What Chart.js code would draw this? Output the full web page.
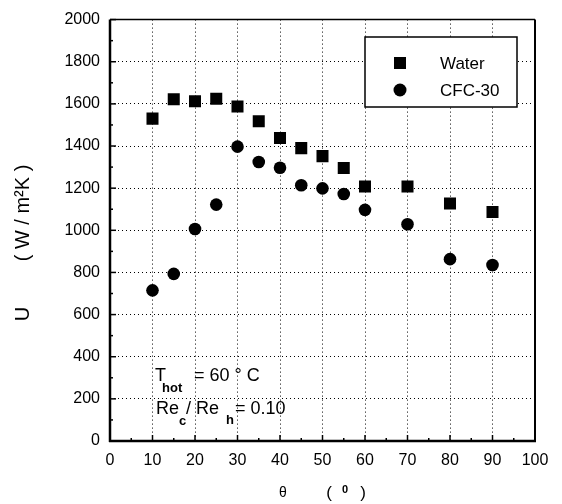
<!DOCTYPE html>
<html>
<head>
<meta charset="utf-8">
<script src="https://cdn.jsdelivr.net/npm/chart.js@4/dist/chart.umd.min.js"></script>
<style>
  html, body { margin: 0; padding: 0; background: #fff; }
  #wrap { width: 562px; height: 504px; }
</style>
</head>
<body>
<div id="wrap"><canvas id="c" width="562" height="504"></canvas></div>
<script>
// data
var angles = [10, 15, 20, 25, 30, 35, 40, 45, 50, 55, 60, 70, 80, 90];
var water  = [1530, 1622, 1612, 1624, 1588, 1518, 1438, 1390, 1352, 1296, 1208, 1208, 1127, 1087];
var cfc30  = [715, 793, 1006, 1122, 1397, 1324, 1297, 1214, 1199, 1172, 1097, 1029, 863, 835];
var seriesNames = ['Water', 'CFC-30'];
var xRange = [0, 100], xStep = 10, xMinor = 5;
var yRange = [0, 2000], yStep = 200, yMinor = 100;

var FONT = "'Liberation Sans', Arial, sans-serif";

function pts(xs, ys) {
  return xs.map(function (x, i) { return { x: x, y: ys[i] }; });
}

function line(ctx, x1, y1, x2, y2) {
  ctx.beginPath();
  ctx.moveTo(x1, y1);
  ctx.lineTo(x2, y2);
  ctx.stroke();
}

var decor = {
  id: 'decor',
  beforeDatasetsDraw: function (chart) {
    var ctx = chart.ctx, a = chart.chartArea, x = chart.scales.x, y = chart.scales.y;
    ctx.save();
    ctx.strokeStyle = '#000';
    ctx.lineWidth = 1.5;
    // inward ticks, major + minor
    for (var v = xRange[0]; v <= xRange[1]; v += xMinor) {
      var px = x.getPixelForValue(v);
      line(ctx, px, a.bottom, px, a.bottom - (v % xStep === 0 ? 6 : 3));
    }
    for (var w = yRange[0]; w <= yRange[1]; w += yMinor) {
      var py = y.getPixelForValue(w);
      line(ctx, a.left, py, a.left + (w % yStep === 0 ? 6 : 3), py);
    }
    // frame
    ctx.lineWidth = 2.5;
    line(ctx, a.left, a.top, a.left, a.bottom + 1);
    line(ctx, a.left - 1, a.bottom, a.right + 1, a.bottom);
    ctx.lineWidth = 2;
    line(ctx, a.right, a.top, a.right, a.bottom);
    ctx.lineWidth = 1.5;
    line(ctx, a.left, a.top, a.right, a.top);
    ctx.restore();
  },
  afterDatasetsDraw: function (chart) {
    var ctx = chart.ctx;
    ctx.save();
    ctx.fillStyle = '#000';
    ctx.strokeStyle = '#000';

    // legend box
    ctx.fillStyle = '#fff';
    ctx.fillRect(365, 37, 152, 70);
    ctx.lineWidth = 1.5;
    ctx.strokeRect(365, 37, 152, 70);
    ctx.fillStyle = '#000';
    ctx.fillRect(394, 57, 12, 12);
    ctx.beginPath();
    ctx.arc(400, 90, 6.5, 0, Math.PI * 2);
    ctx.fill();
    ctx.font = '17px ' + FONT;
    ctx.textAlign = 'left';
    ctx.textBaseline = 'alphabetic';
    ctx.fillText(chart.data.datasets[0].label, 440, 69);
    ctx.fillText(chart.data.datasets[1].label, 440, 96);

    // annotation
    ctx.font = '18px ' + FONT;
    ctx.fillText('T', 155, 381);
    ctx.fillText('= 60 \u00b0 C', 194, 381);
    ctx.fillText('Re', 156, 414);
    ctx.fillText('/', 186, 414);
    ctx.fillText('Re', 196, 414);
    ctx.fillText('= 0.10', 235, 414);
    ctx.font = 'bold 13px ' + FONT;
    ctx.fillText('hot', 162, 392);
    ctx.fillText('c', 179, 425);
    ctx.fillText('h', 226, 424);

    // axis titles
    ctx.font = '14px ' + FONT;
    ctx.textAlign = 'center';
    ctx.fillText('\u03b8', 283, 497);
    ctx.font = '17px ' + FONT;
    ctx.fillText('(', 329, 498);
    ctx.fillText(')', 363, 498);
    ctx.font = 'bold 11px ' + FONT;
    ctx.fillText('0', 345, 493);

    ctx.save();
    ctx.translate(29, 0);
    ctx.rotate(-Math.PI / 2);
    ctx.font = '20px ' + FONT;
    ctx.textAlign = 'center';
    ctx.fillText('U', -314, 0);
    ctx.fillText('( W / m\u00b2K )', -213, 0);
    ctx.restore();

    ctx.restore();
  }
};

var dotted = {
  color: function (c) {
    var v = c.tick && c.tick.value;
    if (c.scale.axis === 'x') return (v === xRange[0] || v === xRange[1]) ? 'rgba(0,0,0,0)' : '#000';
    return (v === yRange[0] || v === yRange[1]) ? 'rgba(0,0,0,0)' : '#000';
  },
  lineWidth: 1,
  drawTicks: false
};

function plain(v) { return String(v); }

new Chart(document.getElementById('c'), {
  type: 'scatter',
  data: {
    datasets: [{
      label: seriesNames[0],
      data: pts(angles, water),
      pointStyle: 'rect',
      pointRadius: 8.5,
      backgroundColor: '#000',
      borderColor: '#000',
      borderWidth: 0
    }, {
      label: seriesNames[1],
      data: pts(angles, cfc30),
      pointStyle: 'circle',
      pointRadius: 6.3,
      backgroundColor: '#000',
      borderColor: '#000',
      borderWidth: 0
    }]
  },
  options: {
    responsive: false,
    animation: false,
    events: [],
    layout: { padding: { top: 14, right: 27, left: 0, bottom: 0 } },
    plugins: { legend: { display: false }, tooltip: { enabled: false } },
    scales: {
      x: {
        type: 'linear',
        min: xRange[0], max: xRange[1],
        grid: dotted,
        border: { display: false, dash: [1, 3] },
        ticks: { stepSize: xStep, autoSkip: false, maxRotation: 0, padding: 10, color: '#000',
                 font: { family: FONT, size: 16 }, callback: plain },
        afterFit: function (s) { s.height = 63; }
      },
      y: {
        type: 'linear',
        min: yRange[0], max: yRange[1],
        grid: dotted,
        border: { display: false, dash: [1, 3] },
        ticks: { stepSize: yStep, autoSkip: false, padding: 10, color: '#000',
                 font: { family: FONT, size: 16 }, callback: plain },
        afterFit: function (s) { s.width = 110; }
      }
    }
  },
  plugins: [decor]
});
</script>
</body>
</html>
